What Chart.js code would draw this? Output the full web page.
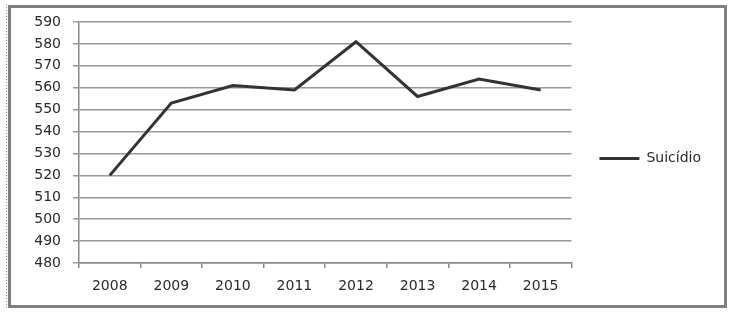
<!DOCTYPE html>
<html><head><meta charset="utf-8">
<script src="https://cdn.jsdelivr.net/npm/chart.js@4/dist/chart.umd.min.js"></script>
<style>html,body{margin:0;padding:0;background:#fff}#w{position:relative;width:733px;height:313px}</style>
</head><body><div id="w"><canvas id="c" width="733" height="313"></canvas></div>
<script>
const years = ["2008","2009","2010","2011","2012","2013","2014","2015"];
const suicidio = [520, 553, 561, 559, 581, 556, 564, 559];
const seriesName = "Suicídio";
const yMin = 480, yMax = 590, yStep = 10;

const framePlugin = {
  id: 'frame',
  beforeDraw(chart) {
    const ctx = chart.ctx;
    ctx.save();
    ctx.fillStyle = '#fff';
    ctx.fillRect(0, 0, chart.width, chart.height);
    ctx.strokeStyle = '#808080';
    ctx.lineWidth = 3;
    ctx.strokeRect(9.5, 6.5, 716, 300);
    ctx.setLineDash([1, 2]);
    ctx.lineWidth = 1;
    ctx.strokeStyle = '#999';
    ctx.beginPath(); ctx.moveTo(6.5, 4); ctx.lineTo(6.5, 309); ctx.stroke();
    ctx.restore();
  }
};

new Chart(document.getElementById('c'), {
  type: 'line',
  data: {
    labels: years,
    datasets: [{
      label: seriesName,
      data: suicidio,
      borderColor: '#333333',
      backgroundColor: '#333333',
      borderWidth: 3,
      pointRadius: 0,
      tension: 0,
      fill: false
    }]
  },
  options: {
    responsive: false,
    animation: false,
    layout: { padding: { left: 10, top: 22, right: 22, bottom: 18 } },
    plugins: {
      tooltip: { enabled: false },
      legend: {
        position: 'right',
        labels: {
          usePointStyle: true,
          pointStyle: 'line',
          pointStyleWidth: 40,
          boxHeight: 12,
          color: '#2a2a2a',
          font: { family: 'DejaVu Sans', size: 14 },
          padding: 28
        }
      }
    },
    scales: {
      x: {
        offset: true,
        grid: { offset: true, drawOnChartArea: false, drawTicks: true, tickLength: 5, color: '#888', lineWidth: 1.5 },
        border: { display: true, color: '#888', width: 1.5 },
        ticks: { color: '#2a2a2a', font: { family: 'DejaVu Sans', size: 14 }, padding: 10, maxRotation: 0 },
        afterFit(s) { s.height = 32; }
      },
      y: {
        min: yMin, max: yMax,
        grid: { color: '#999', lineWidth: 1.5, tickLength: 6 },
        border: { display: true, color: '#888', width: 1.5 },
        ticks: { stepSize: yStep, color: '#2a2a2a', font: { family: 'DejaVu Sans', size: 14 }, padding: 12 },
        afterFit(s) { s.width = 69; }
      }
    }
  },
  plugins: [framePlugin]
});
</script>
</body></html>
